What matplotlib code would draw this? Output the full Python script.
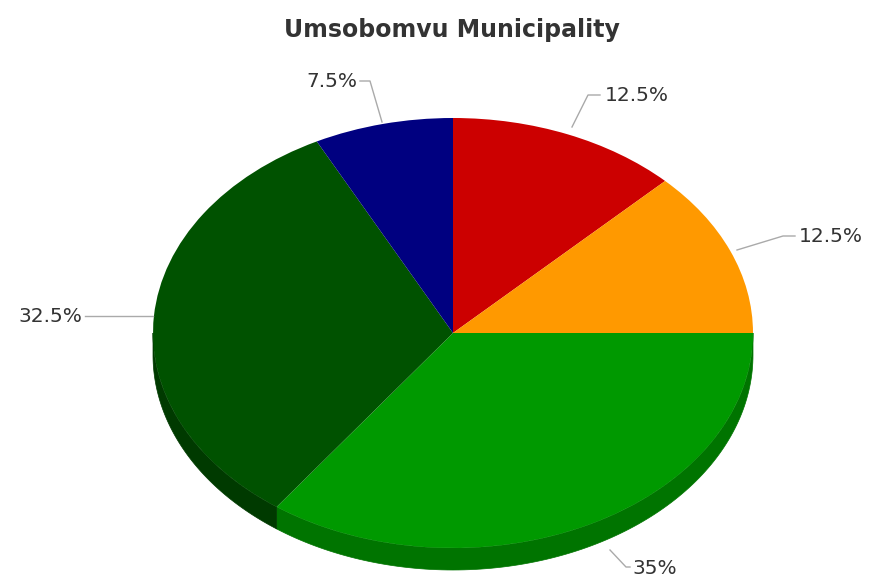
import numpy as np
import matplotlib
matplotlib.use("Agg")
import matplotlib.pyplot as plt
from matplotlib.patches import Polygon

# ---- data ----
title = "Umsobomvu Municipality"
values = [12.5, 12.5, 35, 32.5, 7.5]
labels = ["12.5%", "12.5%", "35%", "32.5%", "7.5%"]
top_colors = ["#cc0000", "#ff9900", "#009900", "#005200", "#000080"]
side_colors = ["#990000", "#c07300", "#007400", "#003a00", "#000060"]

# ---- geometry (pixels) ----
W, H = 871, 577
cx, cy = 453, 333          # pie centre in pixels (from top)
rx, ry = 300, 215          # ellipse radii in pixels
depth_px = 22

fig = plt.figure(figsize=(W / 100, H / 100), dpi=100)
ax = fig.add_axes([0, 0, 1, 1])

wedges, _ = ax.pie(values, colors=top_colors, startangle=90, counterclock=False,
                   radius=1.0, center=(0, 0),
                   wedgeprops=dict(linewidth=0, antialiased=True))
for w in wedges:
    w.set_zorder(3)

# data units: x unit = rx px, y unit = ry px
ax.set_aspect("auto")
ax.set_xlim(-cx / rx, (W - cx) / rx)
ax.set_ylim(-(H - cy) / ry, cy / ry)
ax.axis("off")

d = depth_px / ry

# side walls (front half only)
total = sum(values)
start = 90.0
for v, col in zip(values, side_colors):
    a0 = start
    a1 = start - 360.0 * v / total
    start = a1
    lo, hi = a1, a0
    for off in (0, -360, 360):
        l = max(lo, -180 + off)
        h = min(hi, 0 + off)
        if h > l:
            th = np.radians(np.linspace(l, h, 120))
            xs = np.cos(th)
            ys = np.sin(th)
            pts = np.vstack([np.column_stack([xs, ys]),
                             np.column_stack([xs[::-1], ys[::-1] - d])])
            ax.add_patch(Polygon(pts, closed=True, facecolor=col,
                                 edgecolor=col, linewidth=0.5, zorder=2))

# labels with connector lines (pixel coordinates)
def px(x, y):
    return ((x - cx) / rx, (cy - y) / ry)

label_layout = [
    ([(572, 127), (588, 95), (600, 95)], (605, 96), "left"),
    ([(737, 250), (783, 236), (795, 236)], (799, 237), "left"),
    ([(610, 550), (626, 567), (630, 567)], (632, 569), "left"),
    ([(153, 316), (85, 316)], (82, 317), "right"),
    ([(382, 122), (370, 81), (360, 81)], (357, 82), "right"),
]
for lab, (line, tpos, ha) in zip(labels, label_layout):
    xs, ys = zip(*[px(*p) for p in line])
    ax.plot(xs, ys, color="#aaaaaa", lw=1, zorder=4)
    tx, ty = px(*tpos)
    ax.text(tx, ty, lab, ha=ha, va="center", fontsize=14.5,
            color="#333333", family="DejaVu Sans", zorder=5)

tx, ty = px(452, 37)
ax.text(tx, ty, title, ha="center", va="baseline", fontsize=17,
        fontweight="bold", color="#333333", family="DejaVu Sans")

fig.savefig("out.png", dpi=100)
